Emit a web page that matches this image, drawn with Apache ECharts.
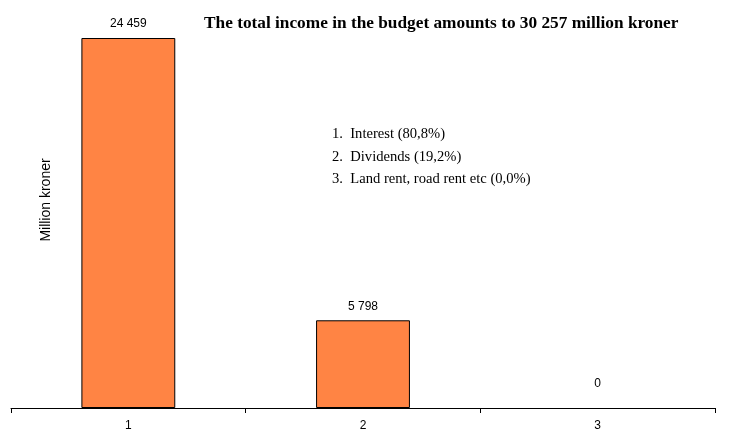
<!DOCTYPE html>
<html><head><meta charset="utf-8">
<script src="https://cdn.jsdelivr.net/npm/echarts@6/dist/echarts.min.js"></script>
<style>html,body{margin:0;padding:0;background:#fff}#c{width:729px;height:444px}</style>
</head><body><div id="c"></div>
<script>
const categories = ['1', '2', '3'];
const values = [24459, 5798, 0];
const legendLines = ['1.  Interest (80,8%)', '2.  Dividends (19,2%)', '3.  Land rent, road rent etc (0,0%)'];
const titleText = 'The total income in the budget amounts to 30 257 million kroner';
const yName = 'Million kroner';

function fmt(v) { return String(v).replace(/\B(?=(\d{3})+(?!\d))/g, ' '); }

const chart = echarts.init(document.getElementById('c'));
chart.setOption({
  animation: false,
  backgroundColor: '#ffffff',
  title: {
    text: titleText, left: 199, top: 10,
    textStyle: { fontFamily: 'Liberation Serif', fontWeight: 'bold', fontSize: 17.3, color: '#000' }
  },
  graphic: [{
    type: 'text', left: 332, top: 123,
    style: { text: legendLines.join('\n'), font: '14.6px "Liberation Serif"', fill: '#000', lineHeight: 22.5 }
  }, {
    type: 'text', rotation: Math.PI / 2, x: 46, y: 200,
    style: { text: yName, font: '14px "Liberation Sans"', fill: '#000', align: 'center', verticalAlign: 'middle' }
  }],
  grid: { left: 11, right: 14, top: 38, bottom: 36 },
  xAxis: {
    type: 'category', data: categories,
    axisLine: { lineStyle: { color: '#000', width: 1 } },
    axisTick: { show: true, length: 5, lineStyle: { color: '#000' } },
    axisLabel: { color: '#000', fontFamily: 'Liberation Sans', fontSize: 12, margin: 12 }
  },
  yAxis: {
    type: 'value', min: 0, max: function (v) { return v.max; },
    show: false, splitLine: { show: false }
  },
  series: [{
    type: 'bar',
    data: values.map(function (v) {
      return v === 0
        ? { value: v, itemStyle: { borderWidth: 0, color: 'rgba(0,0,0,0)' }, label: { distance: 18 } }
        : v;
    }),
    barWidth: '40%',
    itemStyle: { color: '#FF8444', borderColor: '#000', borderWidth: 1 },
    label: {
      show: true, position: 'top', distance: 8, color: '#000',
      fontFamily: 'Liberation Sans', fontSize: 12,
      formatter: function (p) { return fmt(p.value); }
    }
  }]
});
</script></body></html>
